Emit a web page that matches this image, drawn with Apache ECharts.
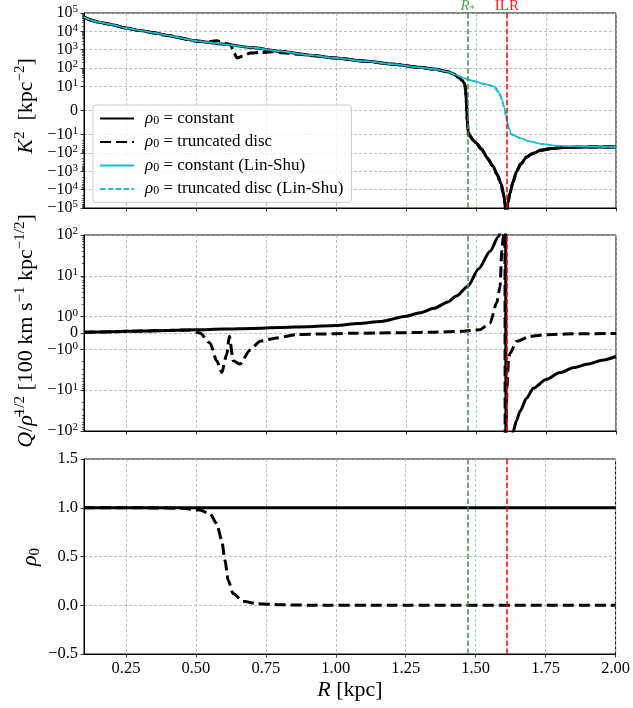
<!DOCTYPE html>
<html><head><meta charset="utf-8">
<script src="https://cdn.jsdelivr.net/npm/echarts@6/dist/echarts.min.js"></script>
<style>html,body{margin:0;padding:0;background:#fff}#c{width:633px;height:708px}</style>
</head><body><div id="c"></div>
<script>
// ---------------- data ----------------
const X_TICKS = [0.25, 0.5, 0.75, 1.0, 1.25, 1.5, 1.75, 2.0];
const K_TICKS = [1e5, 1e4, 1e3, 1e2, 1e1, 0, -1e1, -1e2, -1e3, -1e4, -1e5];
const Q_TICKS = [1e2, 1e1, 1e0, 0, -1e0, -1e1, -1e2];
const R_STAR = 1.468;
const R_ILR = 1.609;
const LEGEND_NAMES = ['ρ0 = constant', 'ρ0 = truncated disc', 'ρ0 = constant (Lin-Shu)', 'ρ0 = truncated disc (Lin-Shu)'];

// K^2 panel
const R_K_CONST = [0.10,0.125,0.15,0.175,0.20,0.25,0.30,0.35,0.40,0.45,0.50,0.60,0.70,0.80,0.90,1.00,1.10,1.20,1.30,1.35,1.40,1.42,1.44,1.45,1.46,1.463,1.466,1.469,1.472,1.48,1.49,1.50,1.52,1.54,1.56,1.575,1.59,1.598,1.604,1.607,1.61,1.614,1.621,1.632,1.645,1.66,1.68,1.70,1.73,1.77,1.81,1.90,2.00];
const K_CONST = [6e4,4.2e4,3.2e4,2.8e4,2.3e4,1.5e4,1.1e4,8.3e3,6e3,4.2e3,3e3,2e3,1.3e3,820,520,355,240,165,110,88,63,48,30,22,13,9,3,-4,-9,-12,-20,-28,-60,-180,-500,-1400,-5000,-1.6e4,-6e4,-3e5,-3e5,-5e4,-1.6e4,-4000,-1000,-400,-170,-115,-72,-57,-50,-48,-48];

const R_K_TRUNC = [0.10,0.15,0.20,0.25,0.30,0.40,0.50,0.53,0.555,0.575,0.59,0.605,0.624,0.636,0.647,0.665,0.695,0.73,0.77,0.81,0.87,0.92,1.00,1.10,1.20,1.30,1.35,1.40,1.42,1.44,1.45,1.46,1.463,1.466,1.469,1.472,1.48,1.49,1.50,1.52,1.54,1.56,1.575,1.59,1.598,1.604,1.607,1.61,1.614,1.621,1.632,1.645,1.66,1.68,1.70,1.73,1.77,1.81,1.90,2.00];
const K_TRUNC = [6e4,3.2e4,2.3e4,1.5e4,1.1e4,6e3,3e3,2.7e3,2.8e3,3.1e3,2.6e3,2.2e3,1.9e3,660,350,440,660,700,770,680,560,470,350,238,163,108,86,62,47,29,21,12,8,2,-5,-10,-13,-21,-30,-65,-190,-520,-1450,-5200,-1.7e4,-7e4,-3e5,-3e5,-5e4,-1.5e4,-3800,-950,-390,-165,-110,-70,-56,-49,-47,-47];

const R_K_LS = [0.10,0.125,0.15,0.175,0.20,0.25,0.30,0.35,0.40,0.45,0.50,0.60,0.70,0.80,0.90,1.00,1.10,1.20,1.30,1.35,1.40,1.43,1.46,1.49,1.52,1.55,1.57,1.586,1.595,1.601,1.606,1.611,1.617,1.625,1.64,1.66,1.69,1.73,1.78,1.84,1.92,2.00];
const K_LS = [6e4,4.2e4,3.2e4,2.8e4,2.3e4,1.5e4,1.1e4,8.3e3,6e3,4.2e3,3e3,2e3,1.3e3,820,520,355,240,165,110,88,63,42,28,20,15,12,9.6,6.9,4,1.5,-1,-4,-7,-9.5,-12,-16,-23,-31,-39,-43,-46,-48];

const R_K_TLS = [0.10,0.15,0.20,0.25,0.30,0.40,0.50,0.56,0.58,0.60,0.62,0.64,0.70,0.80,0.90,1.00,1.10,1.20,1.30,1.35,1.40,1.43,1.46,1.49,1.52,1.55,1.57,1.586,1.595,1.601,1.606,1.611,1.617,1.625,1.64,1.66,1.69,1.73,1.78,1.84,1.92,2.00];
const K_TLS = [6e4,3.2e4,2.3e4,1.5e4,1.1e4,6e3,3e3,2.4e3,2.4e3,1.9e3,1.7e3,1.6e3,1.3e3,810,515,352,238,163,108,86,62,41,27,19,14,11,8.8,6,3,0.5,-2,-5,-7.5,-10,-12.5,-16,-23,-31,-39,-43,-46,-48];

// Q / rho^(1/2) panel
const R_Q_CONST = [0.10,0.20,0.30,0.40,0.50,0.60,0.70,0.80,0.90,1.00,1.08,1.16,1.25,1.30,1.35,1.40,1.43,1.47,1.51,1.55,1.58,1.588,1.596,1.602,1.605,1.608,1.62,1.633,1.645,1.657,1.68,1.705,1.75,1.80,1.85,1.90,1.95,2.00];
const Q_CONST = [0.04,0.08,0.12,0.16,0.2,0.24,0.28,0.33,0.39,0.46,0.58,0.71,1.02,1.25,1.6,2.3,3.2,5.5,15,40,90,120,300,3000,1e4,-1e4,-1000,-100,-55,-33,-16,-9,-5.5,-3.7,-2.8,-2.3,-1.85,-1.5];

const R_Q_TRUNC = [0.10,0.20,0.30,0.40,0.48,0.514,0.55,0.574,0.592,0.61,0.619,0.633,0.657,0.693,0.729,0.788,0.86,0.95,1.05,1.15,1.25,1.35,1.45,1.514,1.55,1.574,1.586,1.592,1.598,1.601,1.603,1.6045,1.607,1.611,1.616,1.621,1.645,1.693,1.752,1.85,2.00];
const Q_TRUNC = [0.04,0.08,0.12,0.16,0.18,0.0,-0.61,-1.9,-3.7,-1.3,-0.2,-1.9,-2.3,-1.04,-0.5,-0.3,-0.1,-0.06,-0.02,0.0,0.02,0.05,0.1,0.2,0.6,2.2,5.5,40,100,1000,1e4,-1e4,-90,-8,-1.9,-1.27,-0.51,-0.2,-0.1,-0.05,-0.03];

// rho_0 panel
const R_RHO_CONST = [0.10, 2.00];
const RHO_CONST = [1.0, 1.0];
const R_RHO_TRUNC = [0.10,0.30,0.45,0.514,0.55,0.574,0.592,0.604,0.615,0.633,0.669,0.717,0.80,0.90,1.20,2.00];
const RHO_TRUNC = [1.0,0.999,0.995,0.976,0.94,0.84,0.67,0.46,0.26,0.12,0.04,0.017,0.005,0.001,0,0];

// ---------------- scales ----------------
const FONT = "'Liberation Serif','DejaVu Serif',serif";
const K_C = 10, K_L = 1.315, K_DEC = 4;
const Q_C = 1, Q_L = 0.4, Q_DEC = 2;
function symlog(v, C, L) { const a = Math.abs(v); const t = a <= C ? a / C * L : L + Math.log10(a / C); return v < 0 ? -t : t; }
const fK = v => symlog(v, K_C, K_L);
const fQ = v => symlog(v, Q_C, Q_L);
const fId = v => v;
function pts(xs, ys, f) { return xs.map((x, i) => [x, f(ys[i])]); }

function minorVals(C, dec) {
  const out = [];
  for (let k = 0; k < dec; k++) for (let m = 2; m <= 9; m++) { out.push(m * C * Math.pow(10, k)); out.push(-m * C * Math.pow(10, k)); }
  return out;
}
function supLabel(v) {
  if (v === 0) return '{n|0}';
  const e = Math.round(Math.log10(Math.abs(v)));
  return '{n|' + (v < 0 ? '\u2212' : '') + '10}{e|' + e + '}';
}
const tickRich = {
  n: { fontFamily: FONT, fontSize: 16, color: '#000', lineHeight: 18 },
  e: { fontFamily: FONT, fontSize: 11, color: '#000', verticalAlign: 'top' }
};
const GRID_LINE = { color: '#b0b0b0', width: 0.8, type: [3, 2] };

function symAxes(gridIndex, ticks, f, L, dec, C) {
  const pos = ticks.map(f);
  const minor = minorVals(C, dec).map(f);
  return [{
    type: 'value', gridIndex, min: -(L + dec), max: L + dec, position: 'left',
    axisLine: { show: true, onZero: false, lineStyle: { color: '#000', width: 1 } },
    axisTick: { show: true, inside: false, length: 3.5, customValues: pos, lineStyle: { color: '#000', width: 0.8 } },
    axisLabel: { show: true, customValues: pos, margin: 6, rich: tickRich,
      formatter: val => { const i = pos.findIndex(p => Math.abs(p - val) < 1e-6); return i < 0 ? '' : supLabel(ticks[i]); } },
    splitLine: { show: true, lineStyle: GRID_LINE }
  }, {
    type: 'value', gridIndex, min: -(L + dec), max: L + dec, position: 'left',
    axisLine: { show: false }, axisLabel: { show: false }, splitLine: { show: false },
    axisTick: { show: true, inside: false, length: 2, customValues: minor, lineStyle: { color: '#000', width: 0.6 } }
  }];
}
function xAxisDef(gridIndex, showLabels) {
  return {
    type: 'value', gridIndex, min: 0.1, max: 2.0,
    axisLine: { show: true, onZero: false, lineStyle: { color: '#000', width: 1 } },
    axisTick: { show: true, inside: false, length: 3.5, customValues: X_TICKS, lineStyle: { color: '#000', width: 0.8 } },
    axisLabel: { show: showLabels, customValues: X_TICKS, margin: 6, fontFamily: FONT, fontSize: 16.5, color: '#000', formatter: v => v.toFixed(2) },
    splitLine: { show: true, lineStyle: GRID_LINE }
  };
}
function lineSeries(name, xi, yi, xs, ys, f, color, width, type, z) {
  return { type: 'line', name, xAxisIndex: xi, yAxisIndex: yi, data: pts(xs, ys, f),
    showSymbol: false, symbol: 'none', smooth: 0.25, smoothMonotone: 'x', clip: true, z,
    lineStyle: { color, width, type }, itemStyle: { color }, silent: true };
}
function vlines(xi, yi, showLabel) {
  return { type: 'line', name: 'vl' + xi, xAxisIndex: xi, yAxisIndex: yi, data: [], z: 6, silent: true,
    markLine: { symbol: ['none', 'none'], silent: true, animation: false,
      data: [
        { xAxis: R_STAR, lineStyle: { color: '#2ca02c', width: 1.5, type: [5.5, 2.4] },
          label: { show: showLabel, position: 'end', distance: -1, formatter: '{i|R}{s|*}',
            rich: { i: { fontFamily: FONT, fontStyle: 'italic', fontSize: 15, color: '#4aab4a' }, s: { fontFamily: FONT, fontSize: 10, color: '#4aab4a', verticalAlign: 'bottom' } } } },
        { xAxis: R_ILR, lineStyle: { color: '#ff0000', width: 1.5, type: [5.5, 2.4] },
          label: { show: showLabel, position: 'end', distance: -1, formatter: 'ILR', fontFamily: FONT, fontSize: 15, color: '#ff2020' } }
      ] } };
}

const BLACK = '#000', CYAN = '#17becf';
const DASH_B = [11, 5], DASH_C = [5.5, 2.4];

const titleRich = {
  i: { fontFamily: FONT, fontStyle: 'italic', fontSize: 22, lineHeight: 26, fill: '#000' },
  n: { fontFamily: FONT, fontSize: 22, lineHeight: 26, fill: '#000' },
  s: { fontFamily: FONT, fontSize: 15, fill: '#000', verticalAlign: 'top' },
  b: { fontFamily: FONT, fontSize: 15, fill: '#000', verticalAlign: 'bottom' }
};

const option = {
  animation: false,
  backgroundColor: '#fff',
  grid: [
    { left: 84, top: 13, width: 532, height: 195, show: true, borderColor: '#000', borderWidth: 1 },
    { left: 84, top: 235, width: 532, height: 196, show: true, borderColor: '#000', borderWidth: 1 },
    { left: 84, top: 459, width: 532, height: 195, show: true, borderColor: '#000', borderWidth: 1 }
  ],
  xAxis: [xAxisDef(0, false), xAxisDef(1, false), xAxisDef(2, true)],
  yAxis: [
    ...symAxes(0, K_TICKS, fK, K_L, K_DEC, K_C),
    ...symAxes(1, Q_TICKS, fQ, Q_L, Q_DEC, Q_C),
    { type: 'value', gridIndex: 2, min: -0.5, max: 1.5, interval: 0.5, position: 'left',
      axisLine: { show: true, onZero: false, lineStyle: { color: '#000', width: 1 } },
      axisTick: { show: true, inside: false, length: 3.5, lineStyle: { color: '#000', width: 0.8 } },
      axisLabel: { margin: 6, fontFamily: FONT, fontSize: 16.5, color: '#000', formatter: v => (v < 0 ? '\u2212' : '') + Math.abs(v).toFixed(1) },
      splitLine: { show: true, lineStyle: GRID_LINE } }
  ],
  legend: {
    left: 93, top: 105, orient: 'vertical', data: LEGEND_NAMES,
    itemWidth: 34, itemHeight: 14, itemGap: 6.5, padding: [5, 8, 5, 6],
    backgroundColor: 'rgba(255,255,255,0.8)', borderColor: '#cccccc', borderWidth: 1, borderRadius: 3,
    selectedMode: false,
    itemStyle: { opacity: 0, borderWidth: 0 },
    formatter: n => '{i|ρ}{b|0}{t|' + n.slice(2) + '}',
    textStyle: { fontFamily: FONT, fontSize: 17, color: '#000', padding: [0, 0, 0, 6],
      rich: { i: { fontFamily: FONT, fontStyle: 'italic', fontSize: 17, color: '#000', lineHeight: 16 },
              b: { fontFamily: FONT, fontSize: 12, color: '#000', verticalAlign: 'bottom' },
              t: { fontFamily: FONT, fontSize: 17, color: '#000', lineHeight: 16 } } }
  },
  series: [
    lineSeries(LEGEND_NAMES[0], 0, 0, R_K_CONST, K_CONST, fK, BLACK, 3, 'solid', 3),
    lineSeries(LEGEND_NAMES[1], 0, 0, R_K_TRUNC, K_TRUNC, fK, BLACK, 3, DASH_B, 3),
    lineSeries(LEGEND_NAMES[2], 0, 0, R_K_LS, K_LS, fK, CYAN, 1.5, 'solid', 4),
    lineSeries(LEGEND_NAMES[3], 0, 0, R_K_TLS, K_TLS, fK, CYAN, 1.5, DASH_C, 4),
    vlines(0, 0, true),
    lineSeries(LEGEND_NAMES[0], 1, 2, R_Q_CONST, Q_CONST, fQ, BLACK, 3, 'solid', 3),
    lineSeries(LEGEND_NAMES[1], 1, 2, R_Q_TRUNC, Q_TRUNC, fQ, BLACK, 3, DASH_B, 3),
    vlines(1, 2, false),
    lineSeries(LEGEND_NAMES[0], 2, 4, R_RHO_CONST, RHO_CONST, fId, BLACK, 3, 'solid', 3),
    lineSeries(LEGEND_NAMES[1], 2, 4, R_RHO_TRUNC, RHO_TRUNC, fId, BLACK, 3, DASH_B, 3),
    vlines(2, 4, false)
  ],
  graphic: [
    { type: 'text', x: 26, y: 106, rotation: Math.PI / 2,
      style: { x: 0, y: 0, text: '{i|K}{s|2}{n|  [kpc}{s|\u22122}{n|]}', rich: titleRich, align: 'center', verticalAlign: 'middle', textAlign: 'center', textVerticalAlign: 'middle' } },
    { type: 'text', x: 26, y: 331, rotation: Math.PI / 2,
      style: { x: 0, y: 0, text: '{i|Q}{n|/}{i|ρ\u0304}{s|1/2}{n| [100 km s}{s|\u22121}{n| kpc}{s|\u22121/2}{n|]}', rich: titleRich, align: 'center', verticalAlign: 'middle', textAlign: 'center', textVerticalAlign: 'middle' } },
    { type: 'text', x: 30, y: 557, rotation: Math.PI / 2,
      style: { x: 0, y: 0, text: '{i|ρ}{b|0}', rich: titleRich, align: 'center', verticalAlign: 'middle', textAlign: 'center', textVerticalAlign: 'middle' } },
    { type: 'text', x: 350, y: 690,
      style: { x: 0, y: 0, text: '{i|R}{n| [kpc]}', rich: titleRich, align: 'center', verticalAlign: 'middle', textAlign: 'center', textVerticalAlign: 'middle' } }
  ]
};
const chart = echarts.init(document.getElementById('c'), null, { renderer: 'canvas' });
chart.setOption(option);
</script></body></html>
